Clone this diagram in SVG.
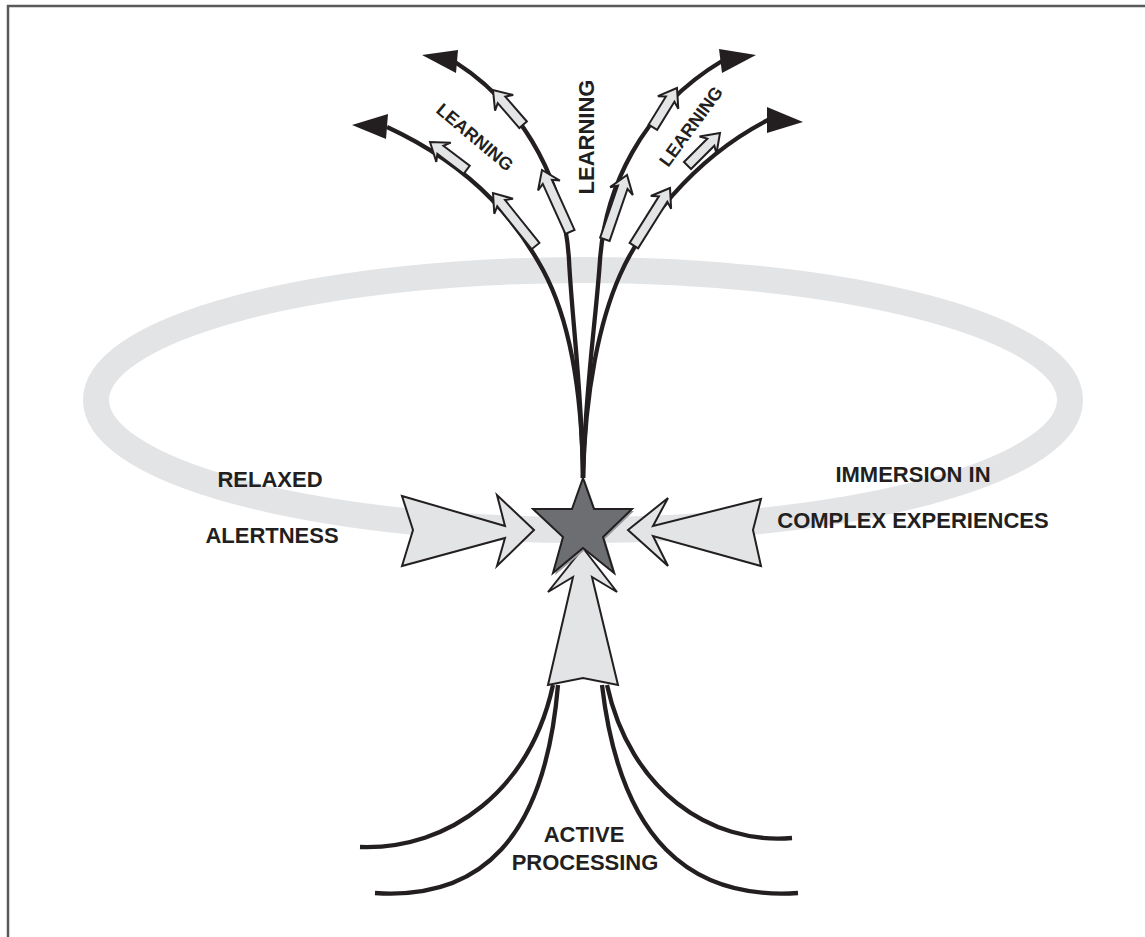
<svg xmlns="http://www.w3.org/2000/svg" width="1145" height="937" viewBox="0 0 1145 937">
<style>
.lbl{font-family:"Liberation Sans",Arial,sans-serif;font-weight:bold;fill:#231f20;text-anchor:middle}
.curve{fill:none;stroke:#231f20;stroke-width:4.3;stroke-linecap:butt}
.blk{fill:#e3e4e6;stroke:#231f20;stroke-width:2;stroke-linejoin:miter}
.head{fill:#231f20}
</style>
<defs>
<polygon id="longArr" class="blk" points="0,0 -17,-12 -13,-5 -68,-5 -68,5 -13,5 -17,12"/>
<polygon id="shortArr" class="blk" points="0,0 -17,-12 -13,-5 -46,-5 -46,5 -13,5 -17,12"/>
</defs>
<rect width="1145" height="937" fill="#fff"/>
<path d="M8,937 V6 H1145" fill="none" stroke="#58595b" stroke-width="2.5"/>
<ellipse id="ring" cx="583" cy="400" rx="487" ry="130" fill="none" stroke="#e3e4e6" stroke-width="26"/>
<g id="connectors">
<path class="curve" d="M583,478 C582,390 570,320 543,270 C520,228 480,170 387,127"/>
<path class="curve" d="M583,478 C582,390 572,320 569,260 C565,190 530,110 455,62"/>
<path class="curve" d="M583,478 C585,390 596,320 600,260 C605,190 640,110 722,61"/>
<path class="curve" d="M583,478 C585,390 600,320 620,275 C640,230 690,160 768,120"/>
<polygon class="head" points="352,125 388,114 386,139"/>
<polygon class="head" points="422,55 458,50 456,73"/>
<polygon class="head" points="756,55 719,49 722,73"/>
<polygon class="head" points="803,122 767,107 767,133"/>
<use href="#longArr" transform="translate(493,193) rotate(-128.7)"/>
<use href="#shortArr" transform="translate(430,142) rotate(-142.9)"/>
<use href="#longArr" transform="translate(542,170) rotate(-114.3)"/>
<use href="#shortArr" transform="translate(493,90) rotate(-130.9)"/>
<use href="#longArr" transform="translate(627,175) rotate(-71)"/>
<use href="#shortArr" transform="translate(677,88) rotate(-58.4)"/>
<use href="#longArr" transform="translate(670,188) rotate(-57.9)"/>
<use href="#shortArr" transform="translate(720,133) rotate(-45)"/>
<path class="curve" d="M553,685 C530,790 450,850 360,847"/>
<path class="curve" d="M558,685 C545,840 480,900 375,893"/>
<path class="curve" d="M602,685 C620,840 690,900 798,893"/>
<path class="curve" d="M607,685 C630,790 710,845 792,838"/>
</g>
<g id="relaxed-arrow">
<polygon class="blk" points="402,496 505,526 497,495 534,530 497,566 505,538 402,566 413,530"/>
</g>
<g id="immersion-arrow">
<polygon class="blk" points="761,499 653,526 668,498 628,530 668,566 653,536 761,566 753,530"/>
</g>
<g id="active-arrow">
<polygon class="blk" points="583,548 617,592 592,577 618,685 583,678 548,685 573,577 548,592"/>
</g>
<g id="star">
<polygon points="585,480 596,511 634,511 605,539 616,575 585,550 555,575 565,539 535,511 574,511" fill="#9a9b9e"/>
<polygon points="583,478 594,509 632,509 603,537 614,573 583,548 553,573 563,537 533,509 572,509" fill="#6d6e71" stroke="#231f20" stroke-width="2" stroke-linejoin="miter"/>
</g>
<g id="learning-labels">
<text class="lbl" font-size="22" transform="translate(594,137) rotate(-90)">LEARNING</text>
<text class="lbl" font-size="18" transform="translate(471,142) rotate(40)">LEARNING</text>
<text class="lbl" font-size="18" transform="translate(696,130) rotate(-53.7)">LEARNING</text>
</g>
<g id="relaxed-alertness">
<text class="lbl" font-size="22" x="270" y="487">RELAXED</text>
<text class="lbl" font-size="22" x="272" y="543">ALERTNESS</text>
</g>
<g id="immersion">
<text class="lbl" font-size="22" x="913" y="482">IMMERSION IN</text>
<text class="lbl" font-size="22" x="913" y="528">COMPLEX EXPERIENCES</text>
</g>
<g id="active-processing">
<text class="lbl" font-size="22" x="584" y="842">ACTIVE</text>
<text class="lbl" font-size="22" x="585" y="870">PROCESSING</text>
</g>
</svg>
